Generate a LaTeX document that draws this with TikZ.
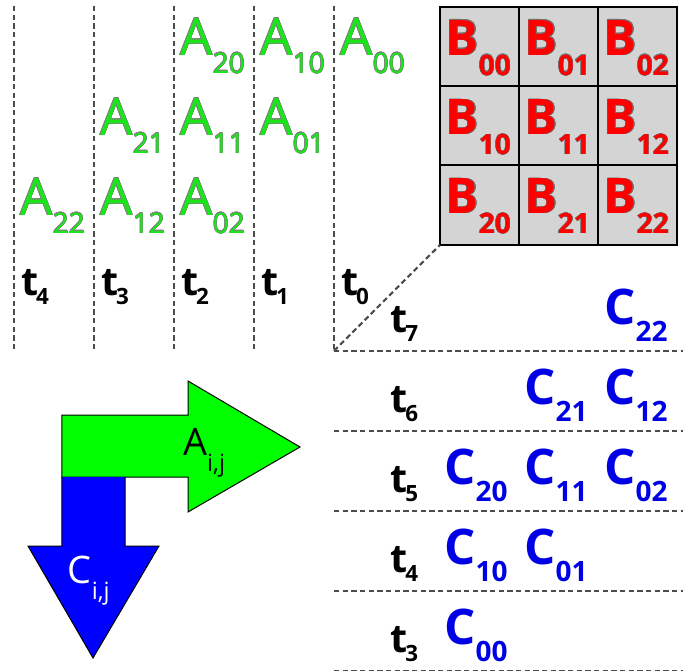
\documentclass[tikz,border=0pt]{standalone}
\usepackage{fontspec}
\setmainfont{Open Sans}
\usepackage{contour}
\contourlength{0.25pt}

\definecolor{agruen}{RGB}{25,230,25}
\definecolor{brot}{RGB}{255,0,0}
\definecolor{cblau}{RGB}{0,0,230}
\definecolor{pfeilgruen}{RGB}{0,255,0}
\definecolor{pfeilblau}{RGB}{0,0,255}

% Index tiefer gestellt: Absenkung, Schriftgroesse, Text
\newcommand{\tief}[3]{\raisebox{-#1}{\fontsize{#2}{#2}\selectfont #3}}

\tikzset{
	zeit/.style={draw=black!70, line width=1.6pt, dash pattern=on 4pt off 2.5pt},
	zelle/.style={fill=black!17, draw=black, line width=1.5pt},
	aknoten/.style={anchor=base west, inner sep=0pt, text=agruen, font=\fontsize{38.5}{40}\selectfont},
	bknoten/.style={anchor=base west, inner sep=0pt, text=brot, font=\bfseries\fontsize{36.8}{38}\selectfont},
	cknoten/.style={anchor=base west, inner sep=0pt, text=cblau, font=\bfseries\fontsize{36.8}{38}\selectfont},
	tknoten/.style={anchor=base west, inner sep=0pt, font=\bfseries\fontsize{29.5}{30}\selectfont},
	pfeiltext/.style={anchor=base west, inner sep=0pt, font=\fontsize{28.4}{30}\selectfont},
	pfeil/.style={draw=black, line width=0.75pt}
}

\begin{document}
\begin{tikzpicture}[x=60pt, y=-60pt]
	\useasboundingbox (0,0) rectangle (8.5375,8.3875);
	
	% Zeitachsen oben mit Beschriftung
	\foreach \k in {0,...,4} {
		\draw[zeit] (4.175-\k,0.075) -- (4.175-\k,4.385);
		\node[tknoten] (t\k) at (4.26-\k,3.69) {t\kern-1.5pt\tief{6.75pt}{16.8}{\k}};
	}
	
	% A-Elemente (Spalte = i+j, Zeile = j)
	\foreach \i in {0,1,2} {
		\foreach \j in {0,1,2} {
			\node[aknoten] (A\i\j) at ({4.25-\i-\j},{0.69+\j}) {\contour{black!50}{A\tief{13.5pt}{21}{\i\j}}};
		}
	}
	
	% B-Matrix
	\foreach \i in {0,1,2} {
		\foreach \j in {0,1,2} {
			\draw[zelle] ({5.5+\j*0.9875},{0.0875+\i*0.99}) rectangle +(0.9875,0.99);
			\node[bknoten] (B\i\j) at ({5.57+\j*0.9875},{0.69+\i*0.99}) {\contour{black!55}{B\tief{15pt}{21}{\i\j}}};
		}
	}
	
	% Zeitlinien unten mit Beschriftung
	\foreach \k in {3,...,7} {
		\draw[zeit] (4.175,11.385-\k) -- (8.5375,11.385-\k);
		\node[tknoten] (tt\k) at (4.875,11.155-\k) {t\kern-1.5pt\tief{6.75pt}{16.8}{\k}};
	}
	\draw[zeit] (4.175,4.385) -- (5.5,3.0625); % Diagonale zur Matrix
	
	% C-Elemente (Zeit = 3+i+j, Spalte = j)
	\foreach \i in {0,1,2} {
		\foreach \j in {0,1,2} {
			\node[cknoten] (C\i\j) at ({5.55+\j},{8.05-\i-\j}) {C\tief{12.75pt}{21}{\i\j}};
		}
	}
	
	% Pfeile
	\filldraw[pfeil, fill=pfeilgruen] (0.775,5.1875) -- (2.35,5.1875) -- (2.35,4.7625) -- (3.75,5.5875)
		-- (2.35,6.4) -- (2.35,5.9625) -- (0.775,5.9625) -- cycle;
	\fill[pfeilblau] (0.775,5.9625) -- (0.775,6.825) -- (0.35,6.825) -- (1.1625,8.225)
		-- (1.9875,6.825) -- (1.5625,6.825) -- (1.5625,5.9625) -- cycle;
	\draw[pfeil] (0.775,5.9625) -- (0.775,6.825) -- (0.35,6.825) -- (1.1625,8.225)
		-- (1.9875,6.825) -- (1.5625,6.825) -- (1.5625,5.9625);
	\node[pfeiltext] (Apfeil) at (2.2875,5.69) {A\tief{12pt}{17.8}{i,j}};
	\node[pfeiltext, text=white] (Cpfeil) at (0.845,7.29) {C\tief{12pt}{17.8}{i,j}};
\end{tikzpicture}
\end{document}
